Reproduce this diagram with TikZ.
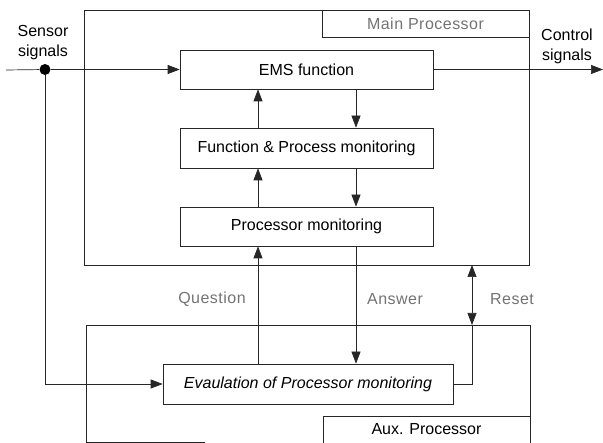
\documentclass[tikz,border=0pt]{standalone}
\usepackage{fontspec}
\setmainfont{Liberation Sans}
\usetikzlibrary{arrows.meta}
\begin{document}
\begin{tikzpicture}[x=1pt,y=-1pt,
  line width=0.7pt, draw=black!85,
  box/.style={draw, rectangle, inner sep=0pt, font=\fontsize{16}{19}\selectfont},
  frame/.style={draw, rectangle, inner sep=0pt},
  lbl/.style={font=\fontsize{16}{20}\selectfont, align=center},
  glbl/.style={font=\fontsize{16}{20}\selectfont\addfontfeatures{LetterSpace=3}, text=black!55},
  arr/.style={-{Triangle[length=12pt,width=9pt]}},
  darr/.style={{Triangle[length=12pt,width=9pt]}-{Triangle[length=12pt,width=9pt]}}]
\useasboundingbox (0,0) rectangle (603,443);

% main processor frame
\node[frame, minimum width=445pt, minimum height=255pt] (main) at (306.5,137.5) {};
\node[frame, glbl, minimum width=207pt, minimum height=27pt] (mainlbl) at (425.5,23.5) {Main Processor};

% boxes
\node[box, minimum width=253pt, minimum height=39pt] (ems) at (306.5,69.5) {EMS function};
\node[box, minimum width=253pt, minimum height=40pt] (fpm) at (306.5,148) {Function \& Process monitoring};
\node[box, minimum width=253pt, minimum height=39pt] (pm) at (306.5,226.5) {Processor monitoring};
\node[box, minimum width=290pt, minimum height=40pt] (eval) at (308,384) {\itshape Evaulation of Processor monitoring};

% aux processor frame
\coordinate (auxbl) at (205,442);
\coordinate (auxbl2) at (86,442);
\coordinate (auxtl) at (86,325);
\coordinate (auxtr) at (530,325);
\coordinate (auxbr) at (530,443);
\draw (auxbl) -- (auxbl2) -- (auxtl) -- (auxtr) -- (auxbr);
\coordinate (axl1) at (323,443);
\coordinate (axl2) at (323,416);
\coordinate (axl3) at (530,416);
\draw (axl1) -- (axl2) -- (axl3);
\node[lbl] (auxlbl) at (426.5,429) {Aux. Processor};

% sensor signals
\node[lbl] (sensor) at (43,43) {Sensor\\signals};
\coordinate (sin) at (6,70);
\node[circle, fill=black, inner sep=0pt, minimum size=11pt] (dot) at (45,69.5) {};
\draw (sin) -- (dot);
\draw[arr] (dot) -- (ems.west);
\draw[arr] (dot) |- (eval.west);

% control signals
\node[lbl] (control) at (567,46) {Control\\signals};
\coordinate (cout) at (603,69.5);
\draw[arr] (ems.east) -- (cout);

% internal arrows
\draw[arr] (ems.south -| 356,0) -- (fpm.north -| 356,0);
\draw[arr] (fpm.north -| 258,0) -- (ems.south -| 258,0);
\draw[arr] (fpm.south -| 356,0) -- (pm.north -| 356,0);
\draw[arr] (pm.north -| 258,0) -- (fpm.south -| 258,0);

% question / answer
\draw[arr] (eval.north -| 258,0) -- (pm.south -| 258,0);
\draw[arr] (pm.south -| 356,0) -- (eval.north -| 356,0);
\node[glbl] (question) at (212,299) {Question};
\node[glbl] (answer) at (395,299) {Answer};

% reset
\coordinate (rcorner) at (472,384);
\coordinate (rlow) at (472,325);
\coordinate (rhigh) at (472,265);
\draw (eval.east) -- (rcorner) -- (rlow);
\draw[darr] (rlow) -- (rhigh);
\node[glbl] (reset) at (512,299) {Reset};
\end{tikzpicture}
\end{document}
